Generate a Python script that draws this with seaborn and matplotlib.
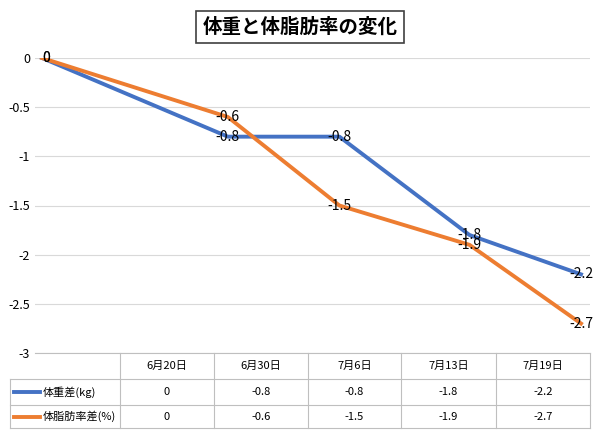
import matplotlib
matplotlib.use("Agg")
import matplotlib.pyplot as plt
import seaborn as sns
import pandas as pd
import numpy as np

plt.rcParams["font.family"] = "Noto Sans CJK JP"

dates = ["6月20日", "6月30日", "7月6日", "7月13日", "7月19日"]
days = [0, 10, 16, 23, 29]
weight = [0, -0.8, -0.8, -1.8, -2.2]
fat = [0, -0.6, -1.5, -1.9, -2.7]
names = ["体重差(kg)", "体脂肪率差(%)"]
colors = ["#4472C4", "#ED7D31"]

df = pd.DataFrame({"day": days * 2, "value": weight + fat,
                   "series": [names[0]] * 5 + [names[1]] * 5})

W, H = 600, 441
fig = plt.figure(figsize=(W / 100, H / 100), dpi=100)
ax = fig.add_axes([35 / W, 1 - 353 / H, 555 / W, 295 / H])
sns.lineplot(data=df, x="day", y="value", hue="series", palette=colors,
             linewidth=2.8, ax=ax, legend=False)
ax.set_xlim(-7 / 18.6, 29 + 9 / 18.6)
ax.set_ylim(-3, 0)
ax.set_yticks(np.arange(-3, 0.01, 0.5))
ax.set_yticklabels(["-3", "-2.5", "-2", "-1.5", "-1", "-0.5", "0"], fontsize=9)
ax.tick_params(length=0)
ax.set_xticks([])
ax.set_xlabel("")
ax.set_ylabel("")
ax.grid(axis="y", color="#D9D9D9", linewidth=0.8)
for s in ["top", "right", "left"]:
    ax.spines[s].set_visible(False)
ax.spines["bottom"].set_color("#BFBFBF")
for vals in (weight, fat):
    for d, v in zip(days, vals):
        ax.text(d, v, f"{v:g}", fontsize=10, ha="left" if d == 0 else "center",
                va="center")

# title box
fig.text(300 / W, 1 - 27 / H, "体重と体脂肪率の変化", fontsize=14, fontweight="bold",
         ha="center", va="center",
         bbox=dict(boxstyle="square,pad=0.35", fc="white", ec="#404040", lw=1.2))

# data table
tab = fig.add_axes([0, 0, 1, 1], facecolor="none")
tab.set_xlim(0, W)
tab.set_ylim(H, 0)
tab.axis("off")
xs = [120, 214, 308, 401, 496, 590]
ys = [353, 379, 405, 428]
lc = "#BFBFBF"
for x in xs:
    tab.plot([x, x], [ys[0], ys[-1]], color=lc, lw=0.8)
for y in ys[1:]:
    tab.plot([10, 590], [y, y], color=lc, lw=0.8)
tab.plot([10, 10], [ys[1], ys[-1]], color=lc, lw=0.8)
for i, d in enumerate(dates):
    cx = (xs[i] + xs[i + 1]) / 2
    tab.text(cx, (ys[0] + ys[1]) / 2, d, fontsize=8, ha="center", va="center")
    tab.text(cx, (ys[1] + ys[2]) / 2, f"{weight[i]:g}", fontsize=8, ha="center", va="center")
    tab.text(cx, (ys[2] + ys[3]) / 2, f"{fat[i]:g}", fontsize=8, ha="center", va="center")
for r, (n, c) in enumerate(zip(names, colors)):
    cy = (ys[r + 1] + ys[r + 2]) / 2
    tab.plot([14, 40], [cy, cy], color=c, lw=2.8)
    tab.text(43, cy, n, fontsize=8, ha="left", va="center")

fig.savefig("out.png", dpi=100)
